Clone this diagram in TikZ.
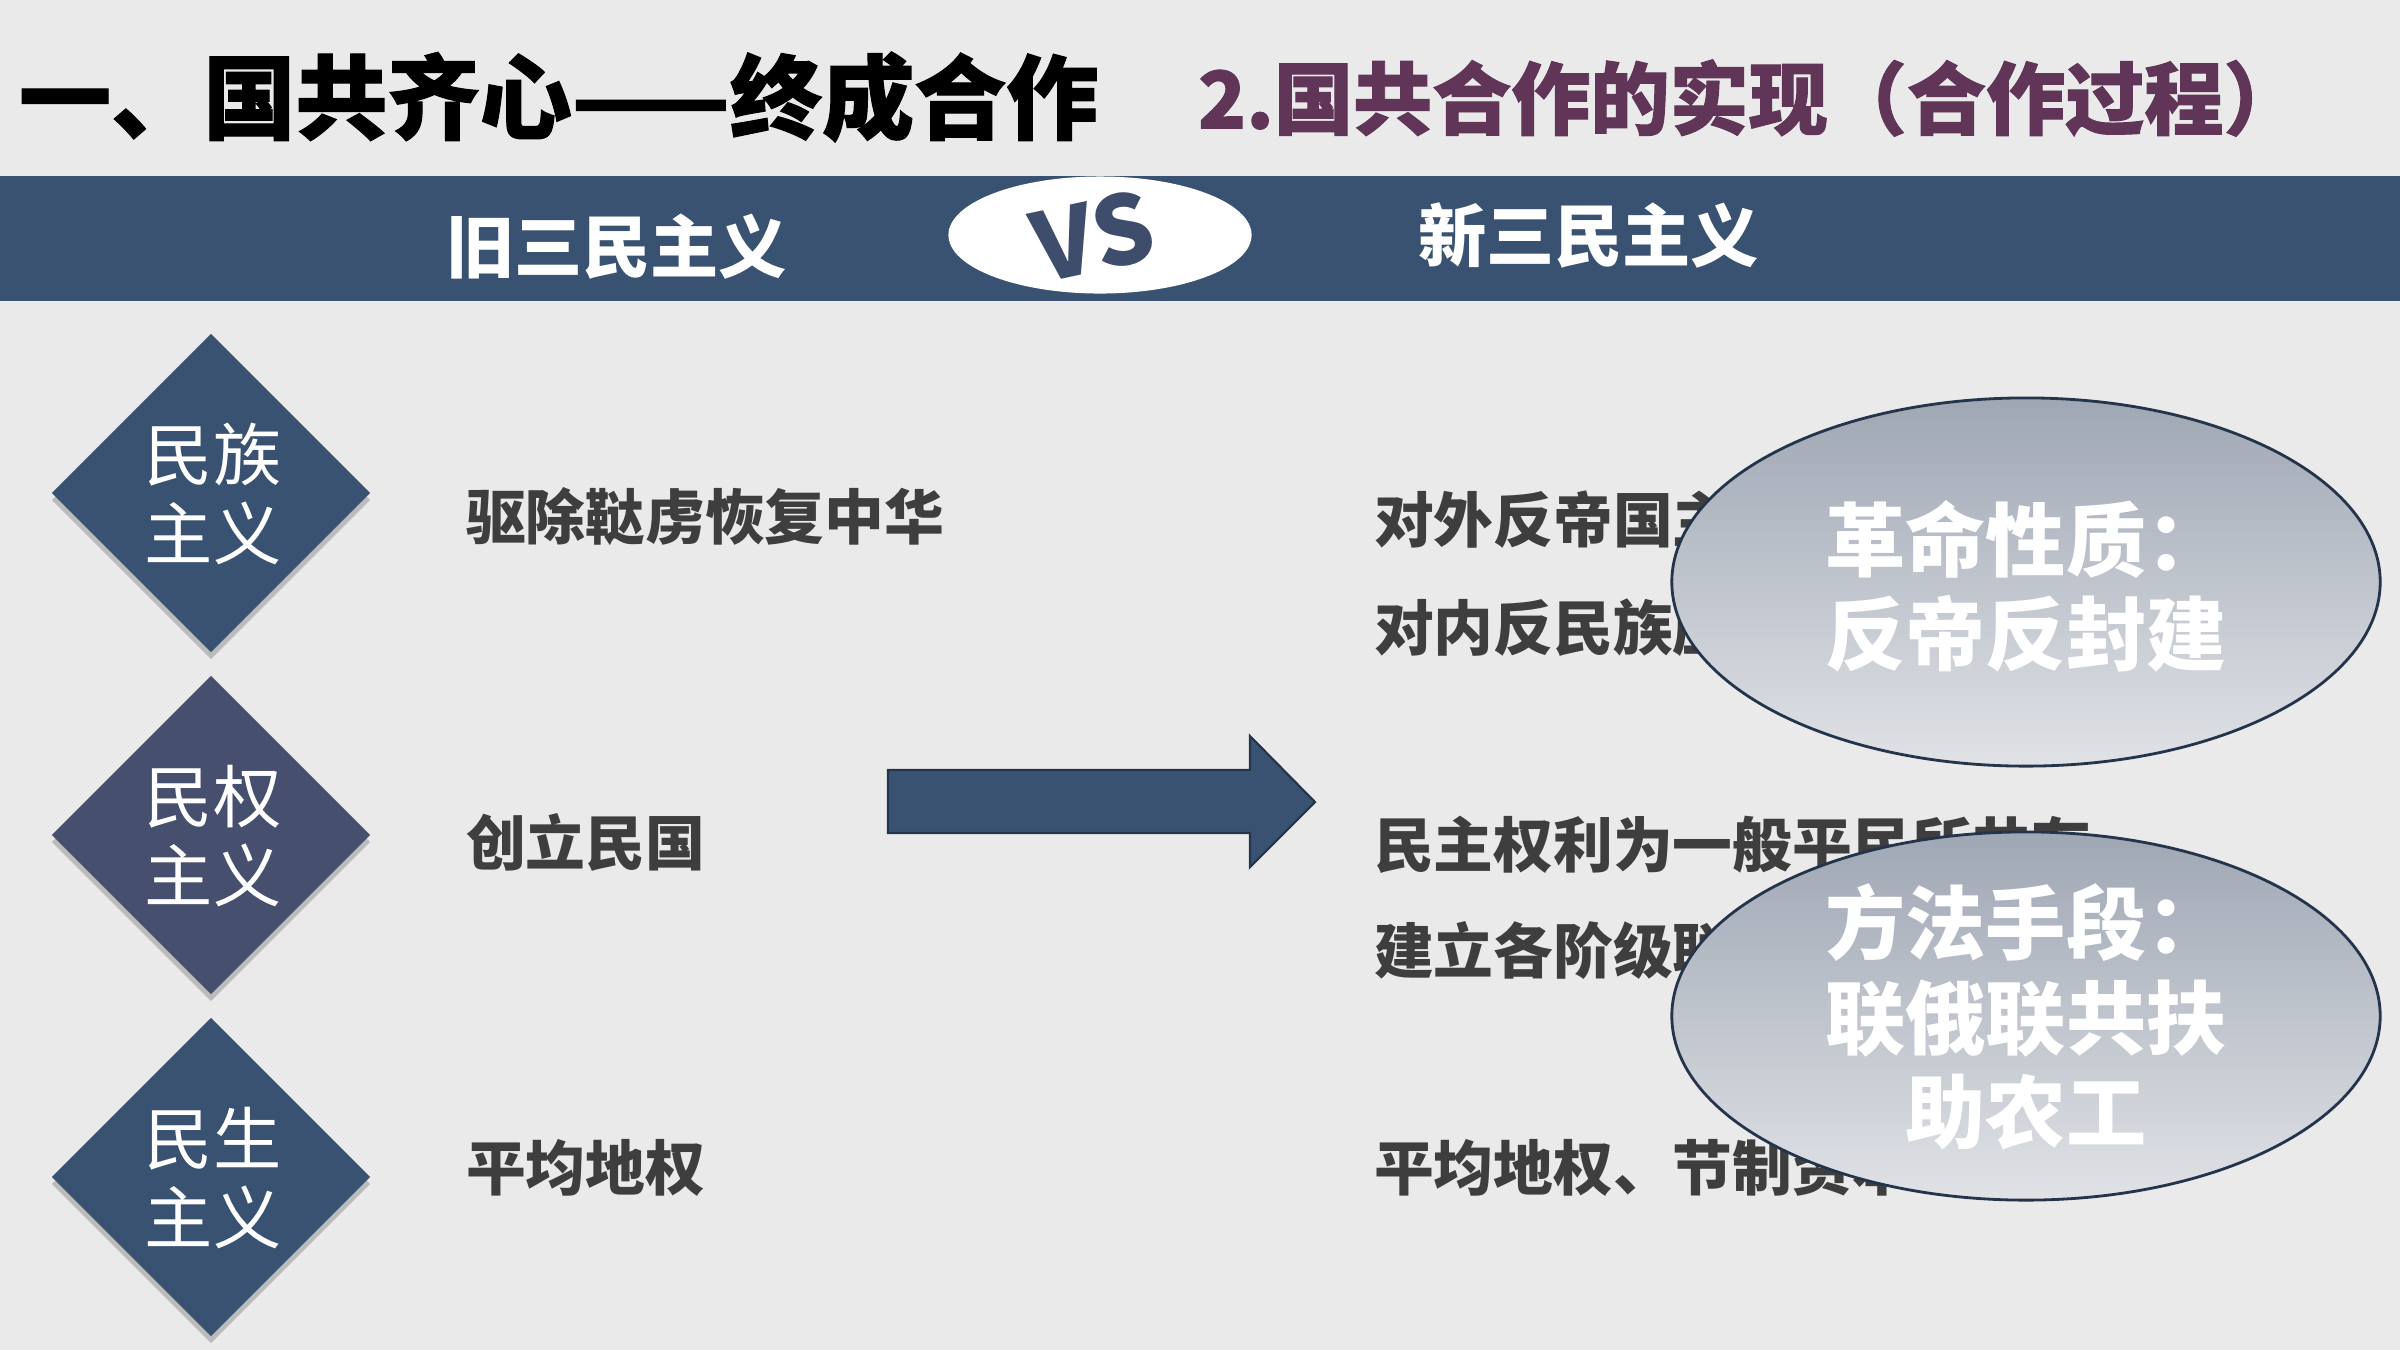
\documentclass[tikz,border=0pt]{standalone}
\usepackage{fontspec}
\newfontfamily\cjk{Noto Sans CJK SC}
\newfontfamily\cjkheavy{Noto Sans CJK SC}[BoldFeatures={FakeBold=1.2}]
\usetikzlibrary{shapes.geometric,shadows}
\definecolor{bgc}{HTML}{EAEAEA}
\definecolor{bandc}{HTML}{3A5272}
\definecolor{subc}{HTML}{603558}
\definecolor{bodyc}{HTML}{3E3E3E}
\definecolor{diaA}{HTML}{3A5272}
\definecolor{diaB}{HTML}{474F6E}
\definecolor{vsc}{HTML}{3D4D6B}
\definecolor{ellTop}{HTML}{9FA7B4}
\definecolor{ellBot}{HTML}{E0E2E6}
\definecolor{ellLine}{HTML}{24344A}
\tikzset{
  every node/.style={inner sep=0pt, outer sep=0pt},
  titletext/.style={anchor=west, text=black, font=\cjkheavy\bfseries\fontsize{26.2pt}{30pt}\selectfont},
  subtext/.style={anchor=west, text=subc, font=\cjkheavy\bfseries\fontsize{22.5pt}{26pt}\selectfont},
  bandtext/.style={text=white, font=\cjk\bfseries\fontsize{19.4pt}{23pt}\selectfont},
  diabox/.style={diamond, aspect=1, minimum width=3.18cm, minimum height=3.18cm,
     drop shadow={shadow xshift=0pt, shadow yshift=-2pt, opacity=0.2, fill=black}},
  diatext/.style={text=white, align=center, font=\cjk\fontsize{19.4pt}{22.5pt}\selectfont},
  bodytext/.style={anchor=west, text=bodyc, font=\cjk\bfseries\fontsize{17pt}{20pt}\selectfont},
  ellbox/.style={ellipse, minimum width=7.08cm, minimum height=3.68cm, draw=ellLine,
     line width=0.8pt, top color=ellTop, bottom color=ellBot},
  elltext/.style={text=white, align=center, font=\cjk\bfseries\fontsize{22.8pt}{26.8pt}\selectfont},
  arrowbody/.style={fill=bandc, draw=ellLine, line width=0.6pt}
}
\begin{document}
\begin{tikzpicture}[x=0.01cm, y=-0.01cm]
\fill[bgc] (0,0) rectangle (2400,1350);
\useasboundingbox (0,0) rectangle (2400,1350);

% title line
\node[titletext] (title) at (19,97) {一、国共齐心——终成合作};
\node[subtext] (sub) at (1198,98) {2.国共合作的实现（合作过程）};

% band
\fill[bandc] (0,176) rectangle (2400,301);
\node[bandtext, anchor=west] (old) at (446,247) {旧三民主义};
\node[bandtext, anchor=west] (new) at (1418,236) {新三民主义};
\fill[white] (1100,235) ellipse [x radius=1.515cm, y radius=0.585cm];
\node[rotate=12, text=vsc, font=\cjk\bfseries\fontsize{27pt}{30pt}\selectfont] (vs) at (1093,236) {VS};

% diamonds
\node[diabox, fill=diaA] (d1) at (211,493) {};
\node[diabox, fill=diaB] (d2) at (211,835) {};
\node[diabox, fill=diaA] (d3) at (211,1177) {};
\node[diatext] (t1) at (213,494) {民族\\主义};
\node[diatext] (t2) at (213,836) {民权\\主义};
\node[diatext] (t3) at (213,1178) {民生\\主义};

% old contents
\node[bodytext] (o1) at (466,517) {驱除鞑虏恢复中华};
\node[bodytext] (o2) at (466,842) {创立民国};
\node[bodytext] (o3) at (466,1168) {平均地权};

% arrow
\draw[arrowbody] (888,770) -- (1250,770) -- (1250,736) -- (1315,802)
   -- (1250,867) -- (1250,833) -- (888,833) -- cycle;

% new contents
\node[bodytext] (n1) at (1374,520) {对外反帝国主义};
\node[bodytext] (n2) at (1374,628) {对内反民族压迫};
\node[bodytext] (n3) at (1374,845) {民主权利为一般平民所共有};
\node[bodytext] (n4) at (1374,951) {建立各阶级联盟};
\node[bodytext] (n5) at (1374,1168) {平均地权、节制资本};

% ellipses
\node[ellbox] (e1) at (2026,582) {};
\node[elltext] (et1) at (2026,586) {革命性质：\\反帝反封建};
\node[ellbox] (e2) at (2026,1016) {};
\node[elltext] (et2) at (2026,1017) {方法手段：\\联俄联共扶\\助农工};
\end{tikzpicture}
\end{document}
